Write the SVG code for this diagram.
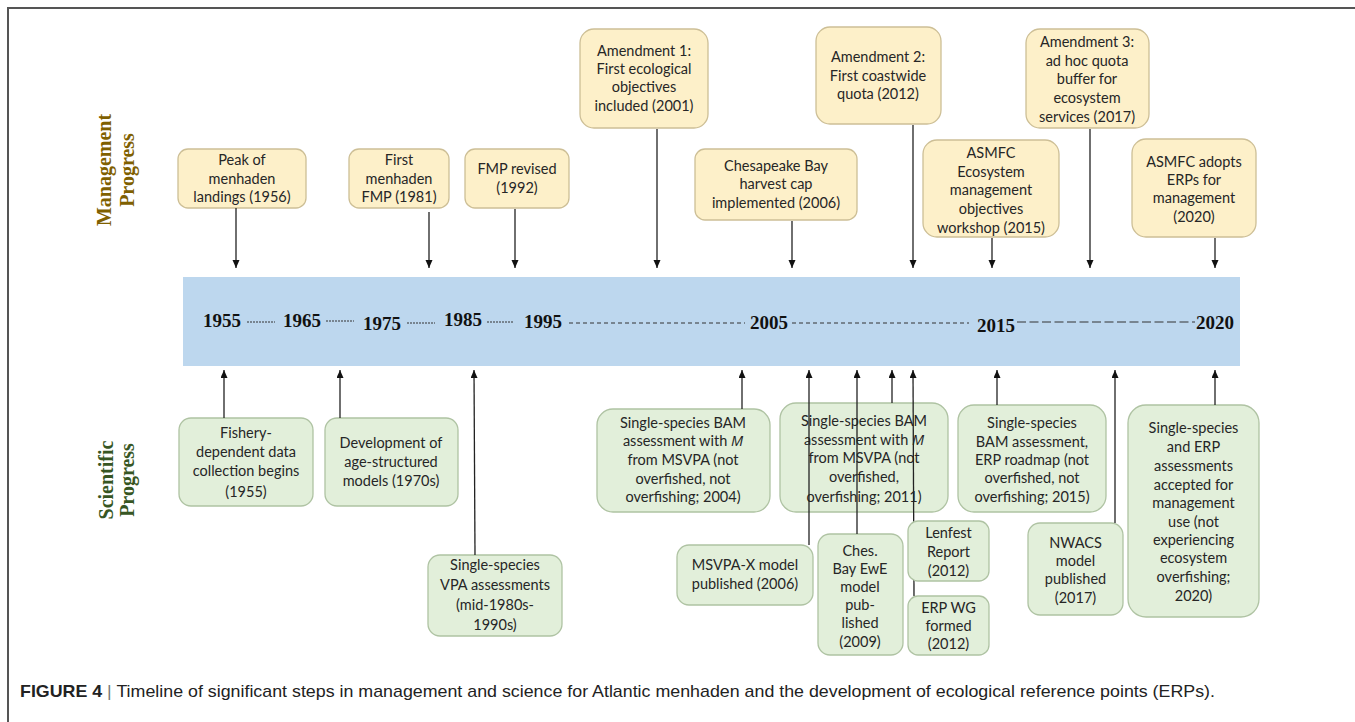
<svg xmlns="http://www.w3.org/2000/svg" width="1355" height="722" viewBox="0 0 1355 722">
<style>
.mg rect{fill:#fdf0c9;stroke:#cdbf96;stroke-width:1.3}
.sc rect{fill:#e2efda;stroke:#afc3a3;stroke-width:1.3}
.t{font-family:Lato,"Open Sans","Liberation Sans",sans-serif;font-size:14.5px;fill:#262626;text-anchor:middle}
.it{font-family:"Open Sans","Liberation Sans",sans-serif;font-style:italic}
.yr{font-family:"Liberation Serif",serif;font-weight:bold;font-size:19px;fill:#111}
.side{font-family:"Liberation Serif",serif;font-weight:bold;font-size:20px;text-anchor:middle}
.conn line{stroke:#222;stroke-width:1.3;marker-end:url(#ah)}
.dash line{stroke:#333;stroke-width:1}
.cap{font-family:"Liberation Sans",Arial,sans-serif;font-size:17px;fill:#222}
</style>
<defs>
<marker id="ah" markerUnits="userSpaceOnUse" markerWidth="8" markerHeight="9" refX="8" refY="3.5" orient="auto">
<path d="M0,0 L8,3.5 L0,7 z" fill="#111"/>
</marker>
</defs>
<rect width="1355" height="722" fill="#fff"/>
<path d="M8,722 V8 H1355" fill="none" stroke="#555" stroke-width="2"/>

<g id="label-management" class="side" fill="#7f6000">
<text transform="translate(111,170) rotate(-90)">Management</text>
<text transform="translate(134,170) rotate(-90)">Progress</text>
</g>
<g id="label-scientific" class="side" fill="#375623">
<text transform="translate(113,480) rotate(-90)">Scientific</text>
<text transform="translate(134,480) rotate(-90)">Progress</text>
</g>

<g id="timeline-band">
<rect x="183" y="277" width="1057" height="89" fill="#bdd7ee"/>
<g class="dash">
<line x1="247" y1="322" x2="275" y2="322" stroke-dasharray="2 1"/>
<line x1="326" y1="321" x2="354" y2="321" stroke-dasharray="2 1"/>
<line x1="407" y1="323" x2="435" y2="323" stroke-dasharray="2 1"/>
<line x1="487" y1="322" x2="514" y2="322" stroke-dasharray="2 1"/>
<line x1="569" y1="323" x2="745" y2="323" stroke-dasharray="4 3"/>
<line x1="792" y1="323" x2="969" y2="323" stroke-dasharray="4 3"/>
<line x1="1017" y1="322" x2="1195" y2="322" stroke-dasharray="9 3.5" stroke-width="1.4"/>
</g>
<text class="yr" x="203" y="327">1955</text>
<text class="yr" x="283" y="327">1965</text>
<text class="yr" x="363" y="330">1975</text>
<text class="yr" x="444" y="326">1985</text>
<text class="yr" x="524" y="328">1995</text>
<text class="yr" x="750" y="329">2005</text>
<text class="yr" x="977" y="332">2015</text>
<text class="yr" x="1196" y="329">2020</text>
</g>

<g id="m-peak-landings" class="mg"><rect x="178" y="149" width="128" height="59" rx="10"/>
<text class="t" x="242" y="165">Peak of</text><text class="t" x="242" y="184">menhaden</text><text class="t" x="242" y="202">landings (1956)</text></g>
<g id="m-first-fmp" class="mg"><rect x="349" y="149" width="100" height="59" rx="10"/>
<text class="t" x="399" y="165">First</text><text class="t" x="399" y="184">menhaden</text><text class="t" x="399" y="202">FMP  (1981)</text></g>
<g id="m-fmp-revised" class="mg"><rect x="465" y="149" width="104" height="59" rx="10"/>
<text class="t" x="517" y="174">FMP revised</text><text class="t" x="517" y="193">(1992)</text></g>
<g id="m-amendment-1" class="mg"><rect x="580" y="29" width="128" height="99" rx="14"/>
<text class="t" x="644" y="56">Amendment  1:</text><text class="t" x="644" y="74">First ecological</text><text class="t" x="644" y="92">objectives</text><text class="t" x="644" y="111">included (2001)</text></g>
<g id="m-ches-cap" class="mg"><rect x="695" y="149" width="162" height="71" rx="10"/>
<text class="t" x="776" y="171">Chesapeake Bay</text><text class="t" x="776" y="189">harvest cap</text><text class="t" x="776" y="208">implemented  (2006)</text></g>
<g id="m-amendment-2" class="mg"><rect x="816" y="27" width="125" height="97" rx="14"/>
<text class="t" x="878" y="62">Amendment  2:</text><text class="t" x="878" y="81">First coastwide</text><text class="t" x="878" y="99">quota  (2012)</text></g>
<g id="m-asmfc-workshop" class="mg"><rect x="923" y="140" width="136" height="97" rx="14"/>
<text class="t" x="991" y="158">ASMFC</text><text class="t" x="991" y="177">Ecosystem</text><text class="t" x="991" y="195">management</text><text class="t" x="991" y="214">objectives</text><text class="t" x="991" y="233">workshop  (2015)</text></g>
<g id="m-amendment-3" class="mg"><rect x="1026" y="29" width="123" height="99" rx="14"/>
<text class="t" x="1087" y="47">Amendment  3:</text><text class="t" x="1087" y="66">ad hoc quota</text><text class="t" x="1087" y="84">buffer for</text><text class="t" x="1087" y="103">ecosystem</text><text class="t" x="1087" y="122">services (2017)</text></g>
<g id="m-asmfc-erps" class="mg"><rect x="1132" y="139" width="124" height="98" rx="14"/>
<text class="t" x="1194" y="167">ASMFC adopts</text><text class="t" x="1194" y="185">ERPs for</text><text class="t" x="1194" y="203">management</text><text class="t" x="1194" y="222">(2020)</text></g>

<g id="s-fishery-data" class="sc"><rect x="179" y="418" width="134" height="88" rx="12"/>
<text class="t" x="246" y="438">Fishery-</text><text class="t" x="246" y="457">dependent  data</text><text class="t" x="246" y="476">collection begins</text><text class="t" x="246" y="497">(1955)</text></g>
<g id="s-age-structured" class="sc"><rect x="325" y="418" width="133" height="88" rx="12"/>
<text class="t" x="391" y="448">Development of</text><text class="t" x="391" y="467">age-structured</text><text class="t" x="391" y="486">models (1970s)</text></g>
<g id="s-vpa" class="sc"><rect x="428" y="555" width="134" height="81" rx="12"/>
<text class="t" x="495" y="570">Single-species</text><text class="t" x="495" y="590">VPA assessments</text><text class="t" x="495" y="610">(mid-1980s-</text><text class="t" x="495" y="630">1990s)</text></g>
<g id="s-bam-2004" class="sc"><rect x="597" y="409" width="173" height="103" rx="16"/>
<text class="t" x="683" y="428">Single-species BAM</text><text class="t" x="683" y="446">assessment with <tspan class="it">M</tspan></text><text class="t" x="683" y="465">from MSVPA (not</text><text class="t" x="683" y="484">overfished, not</text><text class="t" x="683" y="502">overfishing; 2004)</text></g>
<g id="s-bam-2011" class="sc"><rect x="780" y="403" width="168" height="109" rx="16"/>
<text class="t" x="864" y="426">Single-species BAM</text><text class="t" x="864" y="445">assessment with <tspan class="it">M</tspan></text><text class="t" x="864" y="463">from MSVPA (not</text><text class="t" x="864" y="482">overfished,</text><text class="t" x="864" y="502">overfishing; 2011)</text></g>
<g id="s-msvpa-x" class="sc"><rect x="677" y="545" width="136" height="60" rx="12"/>
<text class="t" x="745" y="570">MSVPA-X model</text><text class="t" x="745" y="589">published (2006)</text></g>
<g id="s-ches-ewe" class="sc"><rect x="818" y="534" width="85" height="121" rx="12"/>
<text class="t" x="860" y="556">Ches.</text><text class="t" x="860" y="574">Bay EwE</text><text class="t" x="860" y="592">model</text><text class="t" x="860" y="610">pub-</text><text class="t" x="860" y="628">lished</text><text class="t" x="860" y="647">(2009)</text></g>
<g id="s-erp-wg" class="sc"><rect x="908" y="596" width="81" height="59" rx="10"/>
<text class="t" x="948.5" y="613">ERP WG</text><text class="t" x="948.5" y="631">formed</text><text class="t" x="948.5" y="649">(2012)</text></g>
<g id="s-bam-2015" class="sc"><rect x="958" y="405" width="148" height="107" rx="16"/>
<text class="t" x="1032" y="428">Single-species</text><text class="t" x="1032" y="447">BAM assessment,</text><text class="t" x="1032" y="465">ERP roadmap  (not</text><text class="t" x="1032" y="483">overfished, not</text><text class="t" x="1032" y="502">overfishing; 2015)</text></g>
<g id="s-nwacs" class="sc"><rect x="1028" y="523" width="95" height="92" rx="12"/>
<text class="t" x="1075.5" y="548">NWACS</text><text class="t" x="1075.5" y="566">model</text><text class="t" x="1075.5" y="584">published</text><text class="t" x="1075.5" y="603">(2017)</text></g>
<g id="s-erp-accepted" class="sc"><rect x="1128" y="405" width="131" height="212" rx="18"/>
<text class="t" x="1193.5" y="433">Single-species</text><text class="t" x="1193.5" y="452">and ERP</text><text class="t" x="1193.5" y="471">assessments</text><text class="t" x="1193.5" y="490">accepted for</text><text class="t" x="1193.5" y="508">management</text><text class="t" x="1193.5" y="527">use (not</text><text class="t" x="1193.5" y="545">experiencing</text><text class="t" x="1193.5" y="563">ecosystem</text><text class="t" x="1193.5" y="582">overfishing;</text><text class="t" x="1193.5" y="601">2020)</text></g>

<g id="connectors" class="conn">
<line x1="236" y1="208" x2="236" y2="268"/>
<line x1="429" y1="212" x2="429" y2="268"/>
<line x1="515" y1="209" x2="515" y2="268"/>
<line x1="657" y1="129" x2="657" y2="268"/>
<line x1="792" y1="221" x2="792" y2="268"/>
<line x1="913" y1="125" x2="913" y2="268"/>
<line x1="992" y1="238" x2="992" y2="268"/>
<line x1="1090" y1="129" x2="1090" y2="268"/>
<line x1="1215" y1="238" x2="1215" y2="268"/>
<line x1="224" y1="418" x2="224" y2="370"/>
<line x1="340" y1="418" x2="340" y2="370"/>
<line x1="475" y1="555" x2="474" y2="370"/>
<line x1="742" y1="409" x2="742" y2="370"/>
<line x1="809" y1="545" x2="809" y2="370"/>
<line x1="857" y1="534" x2="857" y2="370"/>
<line x1="892" y1="403" x2="892" y2="370"/>
<line x1="914" y1="596" x2="913" y2="370"/>
<line x1="997" y1="405" x2="997" y2="370"/>
<line x1="1115" y1="523" x2="1115" y2="370"/>
<line x1="1215" y1="405" x2="1215" y2="370"/>
</g>

<g id="s-lenfest" class="sc"><rect x="908" y="521" width="81" height="60" rx="10"/>
<text class="t" x="948.5" y="538">Lenfest</text><text class="t" x="948.5" y="557">Report</text><text class="t" x="948.5" y="576">(2012)</text></g>

<text class="cap" x="20" y="697" textLength="1195" lengthAdjust="spacingAndGlyphs"><tspan font-weight="bold">FIGURE 4</tspan> <tspan fill="#777">|</tspan> Timeline of significant steps in management and science for Atlantic menhaden and the development of ecological reference points (ERPs).</text>
</svg>
